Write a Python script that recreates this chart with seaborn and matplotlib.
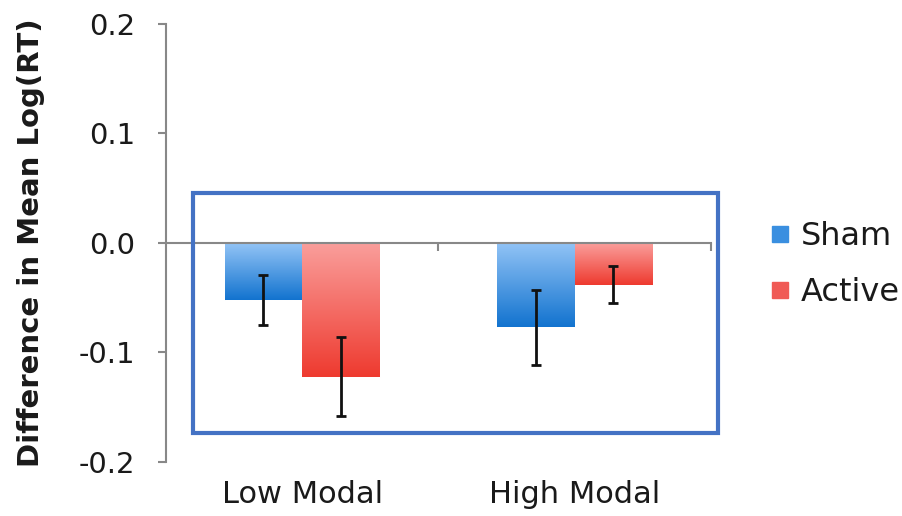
import numpy as np
import pandas as pd
import matplotlib
matplotlib.use("Agg")
import matplotlib.pyplot as plt
import seaborn as sns
from matplotlib.patches import Rectangle
from matplotlib.colors import LinearSegmentedColormap
from matplotlib.lines import Line2D
import matplotlib.transforms as mtransforms

categories = ["Low Modal", "High Modal"]
conditions = ["Sham", "Active"]
sham_means = [-0.052, -0.077]
active_means = [-0.122, -0.038]
sham_err = [0.023, 0.034]
active_err = [0.036, 0.017]
y_ticks = [-0.2, -0.1, 0.0, 0.1, 0.2]
y_label = "Difference in Mean Log(RT)"

sns.set_theme(style="white")
plt.rcParams["font.family"] = ["DejaVu Sans"]
plt.rcParams["text.color"] = "#1a1a1a"
plt.rcParams["axes.labelcolor"] = "#1a1a1a"
plt.rcParams["ytick.labelcolor"] = "#1a1a1a"

df = pd.DataFrame({
    "Category": categories * 2,
    "Condition": ["Sham"] * 2 + ["Active"] * 2,
    "Value": sham_means + active_means,
    "Err": sham_err + active_err,
})

palette = {"Sham": "#3a8fe0", "Active": "#f05a55"}
grad = {"Sham": ("#93c4f6", "#1273cf"), "Active": ("#fa9e9b", "#ee3a2f")}

fig = plt.figure(figsize=(9.02, 5.16), dpi=100)
ax = fig.add_axes([0.184, 0.1047, 0.604, 0.8488])

sns.barplot(data=df, x="Category", y="Value", hue="Condition", order=categories,
            hue_order=conditions, palette=palette, width=0.57, errorbar=None,
            legend=False, ax=ax, saturation=1)

# gradient overlays + error bars
bars = ax.patches[:4]
for bar, (_, row) in zip(bars, df.iterrows()):
    x0 = bar.get_x(); w = bar.get_width(); h = bar.get_height()
    top_c, bot_c = grad[row["Condition"]]
    cmap = LinearSegmentedColormap.from_list("g", [bot_c, top_c])
    gradient = np.linspace(0, 1, 256).reshape(-1, 1)
    im = ax.imshow(gradient, extent=[x0, x0 + w, h, 0], origin="lower",
                   aspect="auto", cmap=cmap, zorder=bar.get_zorder() + 0.1)
    im.set_clip_path(bar)
    ax.errorbar(x0 + w / 2, row["Value"], yerr=row["Err"], fmt="none",
                ecolor="#111111", elinewidth=2, capsize=3.5, capthick=2, zorder=5)

ax.set_xlim(-0.5, 1.5)
ax.set_ylim(-0.2, 0.2)
ax.set_yticks(y_ticks)
ax.set_yticklabels([f"{t:.1f}" for t in y_ticks], fontsize=21)
ax.set_ylabel(y_label, fontsize=21, fontweight="bold")
ax.yaxis.set_label_coords(-0.222, 0.5)
ax.set_xlabel("")

for s in ["top", "right"]:
    ax.spines[s].set_visible(False)
ax.spines["left"].set_color("#888888")
ax.spines["left"].set_linewidth(1.5)
ax.spines["bottom"].set_position(("data", 0))
ax.spines["bottom"].set_color("#888888")
ax.spines["bottom"].set_linewidth(1.5)
ax.tick_params(axis="y", left=True, direction="out", length=6, width=1.5,
               color="#888888", pad=16)
ax.set_xticks([0.5, 1.5])
ax.set_xticklabels([])
ax.tick_params(axis="x", bottom=True, direction="out", length=6, width=1.5,
               color="#888888")
ax.set_xlim(-0.5, 1.5)

trans = mtransforms.blended_transform_factory(ax.transData, ax.transAxes)
for i, c in enumerate(categories):
    ax.text(i, -0.075, c, transform=trans, ha="center", va="center", fontsize=22)

handles = [Line2D([], [], marker="s", linestyle="none", markersize=12,
                  markerfacecolor=palette[c], markeredgecolor=palette[c]) for c in conditions]
fig.legend(handles, conditions, loc="center left", bbox_to_anchor=(0.852, 0.487),
           frameon=False, fontsize=23, handletextpad=0.3, labelspacing=0.78,
           handlelength=0.7, borderaxespad=0, borderpad=0)

fig.add_artist(Rectangle((193 / 902, 1 - 433 / 516), (718 - 193) / 902, (433 - 193) / 516,
                         transform=fig.transFigure, fill=False, edgecolor="#4472c4",
                         linewidth=3, zorder=10))

fig.savefig("out.png", dpi=100)
